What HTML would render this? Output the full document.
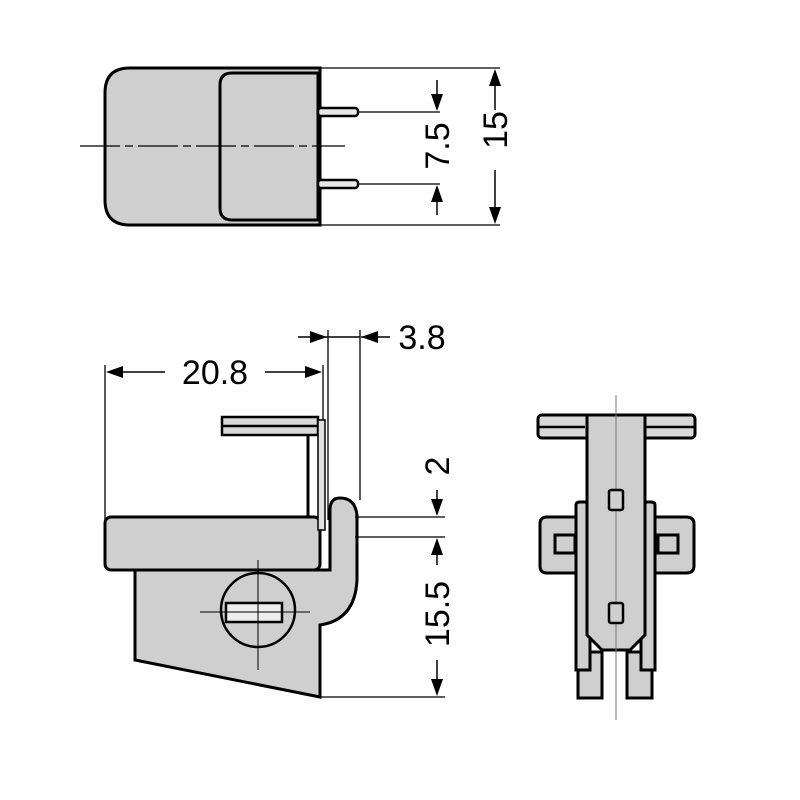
<!DOCTYPE html>
<html><head><style>body{margin:0;background:#fff}svg{display:block}</style></head><body>
<svg width="800" height="800" viewBox="0 0 800 800" xmlns="http://www.w3.org/2000/svg" font-family="Liberation Sans, sans-serif">
<g stroke="#000" fill="none">
<!-- TOP VIEW -->
<path d="M130,68 H320 V225 H130 Q105,225 105,200 V93 Q105,68 130,68Z" fill="#cfcfcf" stroke-width="3"/>
<path d="M232,73 H318 V220 H232 Q220,220 220,208 V85 Q220,73 232,73Z" fill="#cfcfcf" stroke-width="3"/>
<path d="M80,146 H345" stroke-width="1.2" stroke-dasharray="40,5,8,5"/>
<rect x="318" y="108" width="40" height="8" rx="3" fill="#e8e8e8" stroke-width="2.5"/>
<rect x="318" y="180" width="40" height="8" rx="3" fill="#e8e8e8" stroke-width="2.5"/>
<path d="M358,112 H440 M358,184 H440 M320,68 H500 M320,225 H500" stroke-width="1.3"/>
<path d="M437,80 V100 M437,215 V195 M495,80 V110 M495,170 V215" stroke-width="1.5"/>
<!-- SIDE VIEW -->
<path d="M105,365 V520 M323,365 V420 M328,330 V520 M360,330 V500" stroke-width="1.3"/>
<path d="M110,372 H165 M265,372 H315 M298,337 H360 M361,337 H390" stroke-width="1.5"/>
<path d="M135,570 V660 L320,697 V625 Q355,620 357,580 V515 Q355,498 340,498 Q330,498 330,510 V570Z" fill="#cfcfcf" stroke-width="3"/>
<rect x="105" y="517" width="215" height="53" rx="6" fill="#cfcfcf" stroke-width="3"/>
<path d="M222,417 H318 V435 H222Z M222,426 H318" fill="#d8d8d8" stroke-width="2.5"/>
<path d="M308,435 V517" stroke-width="3"/>
<rect x="318" y="420" width="7" height="110" fill="#e0e0e0" stroke-width="1.5"/>
<circle cx="258" cy="610" r="37" fill="#cfcfcf" stroke-width="2.5"/>
<rect x="226" y="603" width="56" height="19" fill="#eee" stroke-width="2.5"/>
<path d="M258,560 V670 M200,612 H310" stroke-width="1"/>
<path d="M355,517 H445 M355,537 H445 M320,697 H445" stroke-width="1.3"/>
<path d="M437,490 V505 M437,565 V548 M437,660 V685" stroke-width="1.5"/>
<!-- FRONT VIEW -->
<rect x="538" y="415" width="157" height="23" rx="4" fill="#d8d8d8" stroke-width="3"/>
<path d="M538,427 H585 M645,427 H695" stroke-width="2.5"/>
<path d="M547,517 H580 V573 H547 Q540,573 540,566 V524 Q540,517 547,517Z M555,535 H575 V553 H555Z" fill="#cfcfcf" stroke-width="3"/>
<path d="M686,517 H653 V573 H686 Q694,573 694,566 V524 Q694,517 686,517Z M678,535 H658 V553 H678Z" fill="#cfcfcf" stroke-width="3"/>
<rect x="578" y="652" width="24" height="46" fill="#cfcfcf" stroke-width="3"/>
<rect x="627" y="652" width="25" height="46" fill="#cfcfcf" stroke-width="3"/>
<path d="M576,505 Q576,502 580,502 H590 V670 H576Z" fill="#cfcfcf" stroke-width="3"/>
<path d="M655,505 Q655,502 651,502 H641 V670 H655Z" fill="#cfcfcf" stroke-width="3"/>
<path d="M587,415 H645 V635 L630,650 H602 L587,635Z" fill="#cfcfcf" stroke-width="3"/>
<path d="M616,395 V720" stroke-width="1" stroke="#777"/>
<rect x="609" y="490" width="14" height="20" rx="2" fill="#cfcfcf" stroke-width="2.5"/>
<rect x="609" y="603" width="14" height="20" rx="2" fill="#cfcfcf" stroke-width="2.5"/>
</g>
<g fill="#000">
<polygon points="437,111 431,94 443,94"/>
<polygon points="437,185 431,202 443,202"/>
<polygon points="495,69 489,86 501,86"/>
<polygon points="495,224 489,207 501,207"/>
<polygon points="106,372 123,366 123,378"/>
<polygon points="322,372 305,366 305,378"/>
<polygon points="327,337 310,331 310,343"/>
<polygon points="361,337 378,331 378,343"/>
<polygon points="437,516 431,499 443,499"/>
<polygon points="437,538 431,555 443,555"/>
<polygon points="437,696 431,679 443,679"/>
</g>
<g font-size="34" fill="#000">
<text x="215" y="384" text-anchor="middle">20.8</text>
<text x="422" y="349" text-anchor="middle">3.8</text>
<text transform="translate(449,146) rotate(-90)" text-anchor="middle">7.5</text>
<text transform="translate(507,130) rotate(-90)" text-anchor="middle">15</text>
<text transform="translate(449,466) rotate(-90)" text-anchor="middle">2</text>
<text transform="translate(449,614) rotate(-90)" text-anchor="middle">15.5</text>
</g>
</svg>
</body></html>
